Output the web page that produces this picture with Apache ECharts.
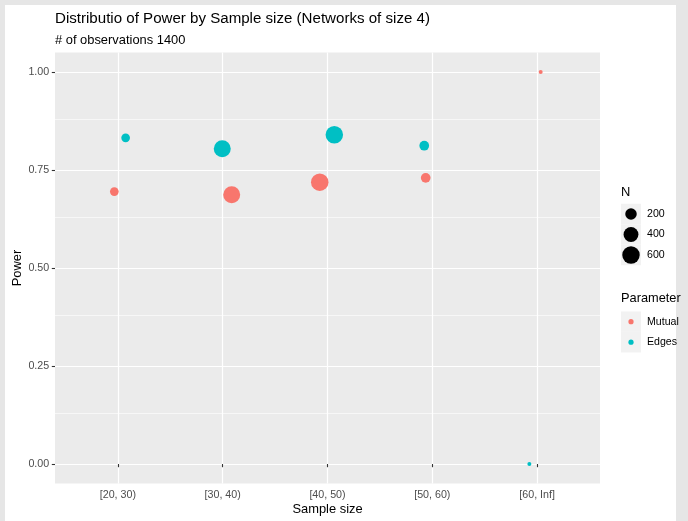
<!DOCTYPE html>
<html>
<head>
<meta charset="utf-8">
<script src="https://cdn.jsdelivr.net/npm/echarts@6/dist/echarts.min.js"></script>
<style>
html, body { margin: 0; padding: 0; background: #e6e6e6; width: 688px; height: 521px; overflow: hidden; }
#frame { position: absolute; left: 5px; top: 5px; width: 671px; height: 516px; background: #ffffff; }
#chart { position: absolute; left: 0; top: 0; width: 688px; height: 521px; }
</style>
</head>
<body>
<div id="frame"></div>
<div id="chart"></div>
<script>
// ---- data ----
const categories = ['[20, 30)', '[30, 40)', '[40, 50)', '[50, 60)', '[60, Inf]'];
const nObs = [90, 560, 605, 125, 20];
const mutualPower = [0.695, 0.687, 0.719, 0.730, 1.0];
const edgesPower = [0.832, 0.804, 0.840, 0.812, 0.0];
const mutualJitter = [-0.034, 0.086, -0.074, -0.063, 0.034];
const edgesJitter = [0.074, -0.004, 0.065, -0.077, -0.074];
const yTicks = [0, 0.25, 0.5, 0.75, 1.0];
const yMinor = [0.125, 0.375, 0.625, 0.875];
const sizeBreaks = [200, 400, 600];
const parameters = ['Mutual', 'Edges'];
const titleText = 'Distributio of Power by Sample size (Networks of size 4)';
const subtitleText = '# of observations 1400';

// ---- styling ----
const FONT = '"Liberation Sans", Arial, Helvetica, sans-serif';
const colors = { Mutual: '#F8766D', Edges: '#00BFC4' };
const nMin = Math.min(...nObs), nMax = Math.max(...nObs);
function sizeFn(n) {
  const t = Math.max(0, Math.min(1, (n - nMin) / (nMax - nMin)));
  return 4 + 13.5 * Math.sqrt(t);
}
const xPos = categories.map((c, i) => i + 1);

function buildData(power, jitter) {
  return categories.map((c, i) => [xPos[i] + jitter[i], power[i], nObs[i]]);
}

const grid = { left: 55, top: 52.4, width: 545, height: 431.2 };

// legend graphics
const legendEls = [];
const lx = 621, kw = 20;
legendEls.push({ type: 'text', style: { text: 'N', x: lx, y: 192, font: '12.9px ' + FONT, fill: '#000', textAlign: 'left', textVerticalAlign: 'middle' } });
sizeBreaks.forEach((b, i) => {
  const cy = 214 + i * 20.5;
  legendEls.push({ type: 'rect', shape: { x: lx, y: cy - 10.25, width: kw, height: 20.5 }, style: { fill: '#F2F2F2' } });
  legendEls.push({ type: 'circle', shape: { cx: lx + kw / 2, cy: cy, r: sizeFn(b) / 2 }, style: { fill: '#000' } });
  legendEls.push({ type: 'text', style: { text: String(b), x: 647, y: cy, font: '10.6px ' + FONT, fill: '#000', textAlign: 'left', textVerticalAlign: 'middle' } });
});
legendEls.push({ type: 'text', style: { text: 'Parameter', x: lx, y: 298.5, font: '12.8px ' + FONT, fill: '#000', textAlign: 'left', textVerticalAlign: 'middle' } });
parameters.forEach((p, i) => {
  const cy = 321.7 + i * 20.5;
  legendEls.push({ type: 'rect', shape: { x: lx, y: cy - 10.25, width: kw, height: 20.5 }, style: { fill: '#F2F2F2' } });
  legendEls.push({ type: 'circle', shape: { cx: lx + kw / 2, cy: cy, r: 2.6 }, style: { fill: colors[p] } });
  legendEls.push({ type: 'text', style: { text: p, x: 647, y: cy, font: '10.6px ' + FONT, fill: '#000', textAlign: 'left', textVerticalAlign: 'middle' } });
});
// axis titles
legendEls.push({ type: 'text', style: { text: 'Sample size', x: grid.left + grid.width / 2, y: 509, font: '12.9px ' + FONT, fill: '#000', textAlign: 'center', textVerticalAlign: 'middle' } });
legendEls.push({ type: 'text', rotation: Math.PI / 2, x: 17.5, y: grid.top + grid.height / 2, style: { text: 'Power', x: 0, y: 0, font: '12.9px ' + FONT, fill: '#000', textAlign: 'center', textVerticalAlign: 'middle' } });

const chart = echarts.init(document.getElementById('chart'), null, { renderer: 'canvas' });
chart.setOption({
  backgroundColor: 'transparent',
  animation: false,
  title: [
    { text: titleText, left: 55, top: 11.5, padding: 0, textStyle: { fontSize: 15.1, fontWeight: 'normal', color: '#000', fontFamily: FONT } },
    { text: subtitleText, left: 55, top: 34, padding: 0, textStyle: { fontSize: 12.9, fontWeight: 'normal', color: '#000', fontFamily: FONT } }
  ],
  grid: Object.assign({ show: true, backgroundColor: '#EBEBEB', borderWidth: 0, containLabel: false }, grid),
  xAxis: {
    type: 'value', min: 0.4, max: 5.6,
    axisLine: { show: false },
    axisTick: { show: true, customValues: xPos, length: 3.2, lineStyle: { color: '#333333', width: 1.1 } },
    axisLabel: { customValues: xPos, margin: 5.5, color: '#4D4D4D', fontSize: 10.7, fontFamily: FONT,
      formatter: v => categories[Math.round(v) - 1] },
    splitLine: { show: true, lineStyle: { color: '#ffffff', width: 1.2 } }
  },
  yAxis: {
    type: 'value', min: -0.05, max: 1.05,
    axisLine: { show: false },
    axisTick: { show: true, customValues: yTicks, length: 3.2, lineStyle: { color: '#333333', width: 1.1 } },
    axisLabel: { customValues: yTicks, margin: 5.8, color: '#4D4D4D', fontSize: 10.7, fontFamily: FONT,
      formatter: v => v.toFixed(2) },
    splitLine: { show: true, lineStyle: { color: '#ffffff', width: 1.2 } }
  },
  graphic: legendEls,
  series: [
    {
      type: 'scatter', name: 'minor', data: [], z: 1, silent: true,
      markLine: { silent: true, symbol: 'none', label: { show: false }, animation: false,
        lineStyle: { color: '#ffffff', width: 0.6, type: 'solid' },
        data: yMinor.map(v => ({ yAxis: v })) }
    },
    {
      type: 'scatter', name: 'Mutual', z: 3,
      data: buildData(mutualPower, mutualJitter),
      symbolSize: v => sizeFn(v[2]),
      itemStyle: { color: colors.Mutual, opacity: 1 }
    },
    {
      type: 'scatter', name: 'Edges', z: 3,
      data: buildData(edgesPower, edgesJitter),
      symbolSize: v => sizeFn(v[2]),
      itemStyle: { color: colors.Edges, opacity: 1 }
    }
  ]
});
</script>
</body>
</html>
